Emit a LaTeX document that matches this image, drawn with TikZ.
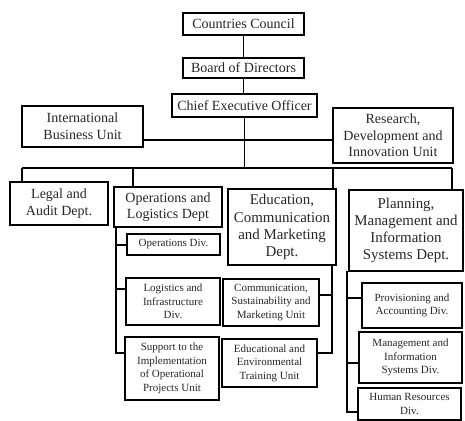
\documentclass[tikz,border=0pt]{standalone}
\usepackage{fontspec}
\setmainfont{Liberation Serif}
\begin{document}
\begin{tikzpicture}[x=0.75pt,y=-0.75pt,line width=0.9pt,
  bigbox/.style={draw, inner sep=0pt, align=center, text=black!85, font=\fontsize{10.5}{12.5}\selectfont},
  largebox/.style={draw, inner sep=0pt, align=center, text=black!85, font=\fontsize{11.2}{12.8}\selectfont},
  smallbox/.style={draw, inner sep=0pt, align=center, text=black!85, font=\fontsize{8.25}{10.1}\selectfont}]
\useasboundingbox (0,0) rectangle (465,421);
% top chain
\node[bigbox, minimum width=121*0.75pt, minimum height=22*0.75pt] (cc) at (243.5,24) {Countries Council};
\node[bigbox, minimum width=121*0.75pt, minimum height=20*0.75pt] (bod) at (243.5,68) {Board of Directors};
\node[bigbox, minimum width=145*0.75pt, minimum height=23*0.75pt] (ceo) at (244.5,105.5) {Chief Executive Officer};
\node[bigbox, minimum width=121*0.75pt, minimum height=41*0.75pt] (ibu) at (82.5,126.5) {International\\Business Unit};
\node[bigbox, minimum width=120*0.75pt, minimum height=55*0.75pt] (rdiu) at (393,135.5) {Research,\\Development and\\Innovation Unit};
% departments
\node[bigbox, minimum width=98*0.75pt, minimum height=43*0.75pt] (legal) at (59,203.5) {Legal and\\Audit Dept.};
\node[bigbox, minimum width=108*0.75pt, minimum height=40*0.75pt] (ops) at (168,207) {Operations and\\Logistics Dept};
\node[largebox, minimum width=108*0.75pt, minimum height=76*0.75pt] (edu) at (282,227) {Education,\\Communication\\and Marketing\\Dept.};
\node[largebox, minimum width=114*0.75pt, minimum height=81*0.75pt] (plan) at (406,230.5) {Planning,\\Management and\\Information\\Systems Dept.};
% units
\node[smallbox, minimum width=93*0.75pt, minimum height=21*0.75pt] (opsdiv) at (173.5,244.5) {Operations Div.};
\node[smallbox, minimum width=94*0.75pt, minimum height=47*0.75pt] (logdiv) at (173,301.5) {Logistics and\\Infrastructure\\Div.};
\node[smallbox, minimum width=94*0.75pt, minimum height=63*0.75pt] (supp) at (172,368.5) {Support to the\\Implementation\\of Operational\\Projects Unit};
\node[smallbox, minimum width=96*0.75pt, minimum height=47*0.75pt] (comm) at (271,302.5) {Communication,\\Sustainability and\\Marketing Unit};
\node[smallbox, minimum width=95*0.75pt, minimum height=48*0.75pt] (etrain) at (269.5,363) {Educational and\\Environmental\\Training Unit};
\node[smallbox, minimum width=100*0.75pt, minimum height=45*0.75pt] (prov) at (412,305.5) {Provisioning and\\Accounting Div.};
\node[smallbox, minimum width=103*0.75pt, minimum height=51*0.75pt] (mgmt) at (410.5,357.5) {Management and\\Information\\Systems Div.};
\node[smallbox, minimum width=103*0.75pt, minimum height=32*0.75pt] (hr) at (409.5,404) {Human Resources\\Div.};
% connectors top
\draw (cc.south) -- (cc.south |- bod.north);
\draw (bod.south) -- (bod.south |- ceo.north);
\coordinate (busL) at (22,168);
\coordinate (busR) at (452,168);
\coordinate (dOps) at (133,168);
\coordinate (dEdu) at (333,168);
\coordinate (hL) at (143,140);
\draw (hL) -- (hL -| rdiu.west);
\draw (ceo.south) -- (ceo.south |- busL);
\draw (busL) -- (busR);
\draw (busL) -- (busL |- legal.north);
\draw (dOps) -- (dOps |- ops.north);
\draw (dEdu) -- (dEdu |- edu.north);
\draw (busR) -- (busR |- plan.north);
% operations tree
\coordinate (oT) at (116,227);
\coordinate (o1) at (116,245);
\coordinate (o2) at (116,289);
\coordinate (o3) at (116,353);
\draw (oT) -- (o3) -- (o3 -| supp.west);
\draw (o1) -- (o1 -| opsdiv.west);
\draw (o2) -- (o2 -| logdiv.west);
% education tree
\coordinate (eT) at (332,265);
\coordinate (e1) at (332,295);
\coordinate (e2) at (332,353);
\draw (eT) -- (e2) -- (e2 -| etrain.east);
\draw (e1) -- (e1 -| comm.east);
% planning tree
\coordinate (pT) at (347,271);
\coordinate (p1) at (347,298);
\coordinate (p2) at (347,363);
\coordinate (p3) at (347,412);
\draw (pT) -- (p3) -- (p3 -| hr.west);
\draw (p1) -- (p1 -| prov.west);
\draw (p2) -- (p2 -| mgmt.west);
\end{tikzpicture}
\end{document}
